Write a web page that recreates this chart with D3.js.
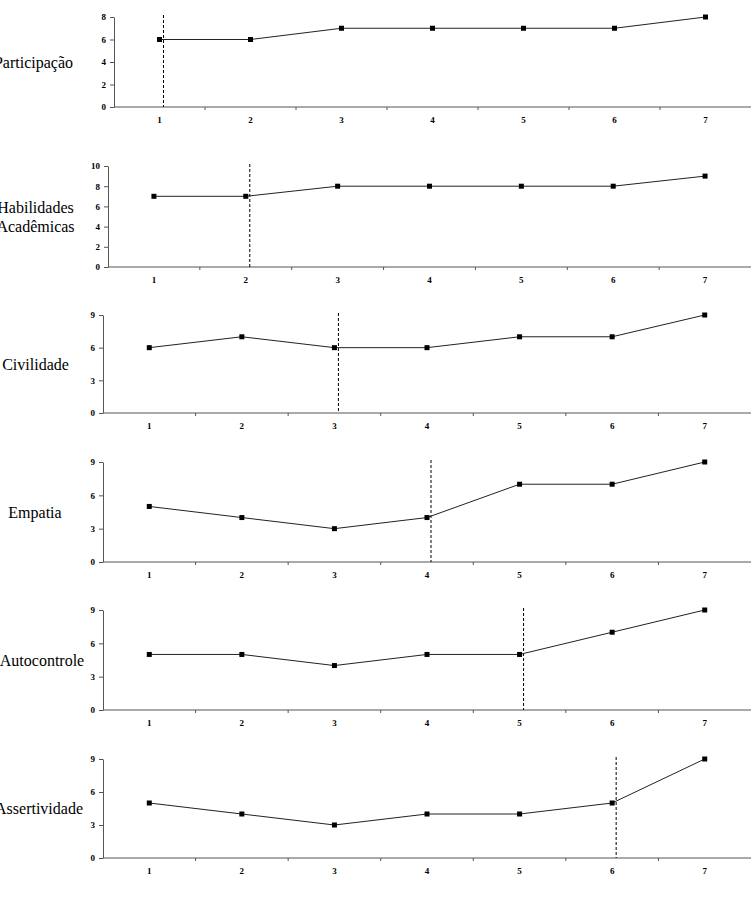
<!DOCTYPE html>
<html>
<head>
<meta charset="utf-8">
<script src="https://cdn.jsdelivr.net/npm/d3@7"></script>
<style>
body{margin:0;background:#fff}
svg{display:block}
.axis text{font-family:"Liberation Serif","Times New Roman",serif;font-weight:bold;font-size:9px;fill:#000}
.axis path,.axis line{stroke:#555}
.label{font-family:"Liberation Serif","Times New Roman",serif;font-size:16px;fill:#000}
</style>
</head>
<body>
<div class="chart"></div>
<script>
const sessions=[1,2,3,4,5,6,7]
const names=[['Participação'],['Habilidades','Acadêmicas'],['Civilidade'],['Empatia'],['Autocontrole'],['Assertividade']]
const participacao=[6,6,7,7,7,7,8]
const habilidades=[7,7,8,8,8,8,9]
const civilidade=[6,7,6,6,7,7,9]
const empatia=[5,4,3,4,7,7,9]
const autocontrole=[5,5,4,5,5,7,9]
const assertividade=[5,4,3,4,4,5,9]
const series=[participacao,habilidades,civilidade,empatia,autocontrole,assertividade]
const phaseChange=[1,2,3,4,5,6]
const yTicks=[[0,2,4,6,8],[0,2,4,6,8,10],[0,3,6,9],[0,3,6,9],[0,3,6,9],[0,3,6,9]]

// layout of each panel (pixels)
const layout=[
	{left:114,top:17,bottom:107,labelX:33.5},
	{left:108,top:166,bottom:267,labelX:35.5},
	{left:103,top:315,bottom:413,labelX:35.5},
	{left:103,top:462,bottom:562,labelX:35},
	{left:103,top:610,bottom:710,labelX:42},
	{left:103,top:759,bottom:858,labelX:39}
]
const width=751,height=898

const svg=d3.select('.chart').append('svg')
	.attr('width',width)
	.attr('height',height)

series.forEach((vals,i)=>{
	const L=layout[i]
	const x=d3.scaleBand().domain(sessions).range([L.left,width]).paddingInner(0).paddingOuter(0)
	const yMax=d3.max(yTicks[i])
	const y=d3.scaleLinear().domain([0,yMax]).range([L.bottom,L.top])
	const g=svg.append('g')

	// x axis: labels centred in bands
	g.append('g')
		.attr('class','axis')
		.attr('transform',`translate(0,${L.bottom})`)
		.call(d3.axisBottom(x).tickSize(0).tickPadding(10))
		.call(a=>a.select('.domain').remove())
	g.append('line')
		.attr('x1',L.left).attr('x2',width)
		.attr('y1',L.bottom).attr('y2',L.bottom)
		.attr('stroke','#555')
	// boundary ticks
	g.selectAll('.bt').data(sessions.slice(1))
		.enter().append('line')
		.attr('x1',d=>x(d)).attr('x2',d=>x(d))
		.attr('y1',L.bottom).attr('y2',L.bottom+3)
		.attr('stroke','#555')

	// y axis
	g.append('g')
		.attr('class','axis')
		.attr('transform',`translate(${L.left},0)`)
		.call(d3.axisLeft(y).tickValues(yTicks[i]).tickSize(4).tickPadding(4).tickSizeOuter(0))

	// phase change line
	const px=x(phaseChange[i])+x.bandwidth()/2+4
	g.append('line')
		.attr('x1',px).attr('x2',px)
		.attr('y1',L.top-2).attr('y2',L.bottom)
		.attr('stroke','#000')
		.attr('stroke-width',1)
		.attr('stroke-dasharray','3,2')

	const line=d3.line()
		.x((d,j)=>x(sessions[j])+x.bandwidth()/2)
		.y(d=>y(d))
	g.append('path')
		.datum(vals)
		.attr('d',line)
		.attr('fill','none')
		.attr('stroke','#222')
		.attr('stroke-width',1)

	g.selectAll('.pt').data(vals)
		.enter().append('rect')
		.attr('x',(d,j)=>x(sessions[j])+x.bandwidth()/2-2.5)
		.attr('y',d=>y(d)-2.5)
		.attr('width',5).attr('height',5)
		.attr('fill','#000')

	// category label
	const midY=(L.top+L.bottom)/2
	const lines=names[i]
	const t=g.append('text')
		.attr('class','label')
		.attr('text-anchor','middle')
	lines.forEach((s,k)=>{
		t.append('tspan')
			.attr('x',L.labelX)
			.attr('y',midY+(k-(lines.length-1)/2)*19)
			.attr('dy','0.35em')
			.text(s)
	})
})
</script>
</body>
</html>
